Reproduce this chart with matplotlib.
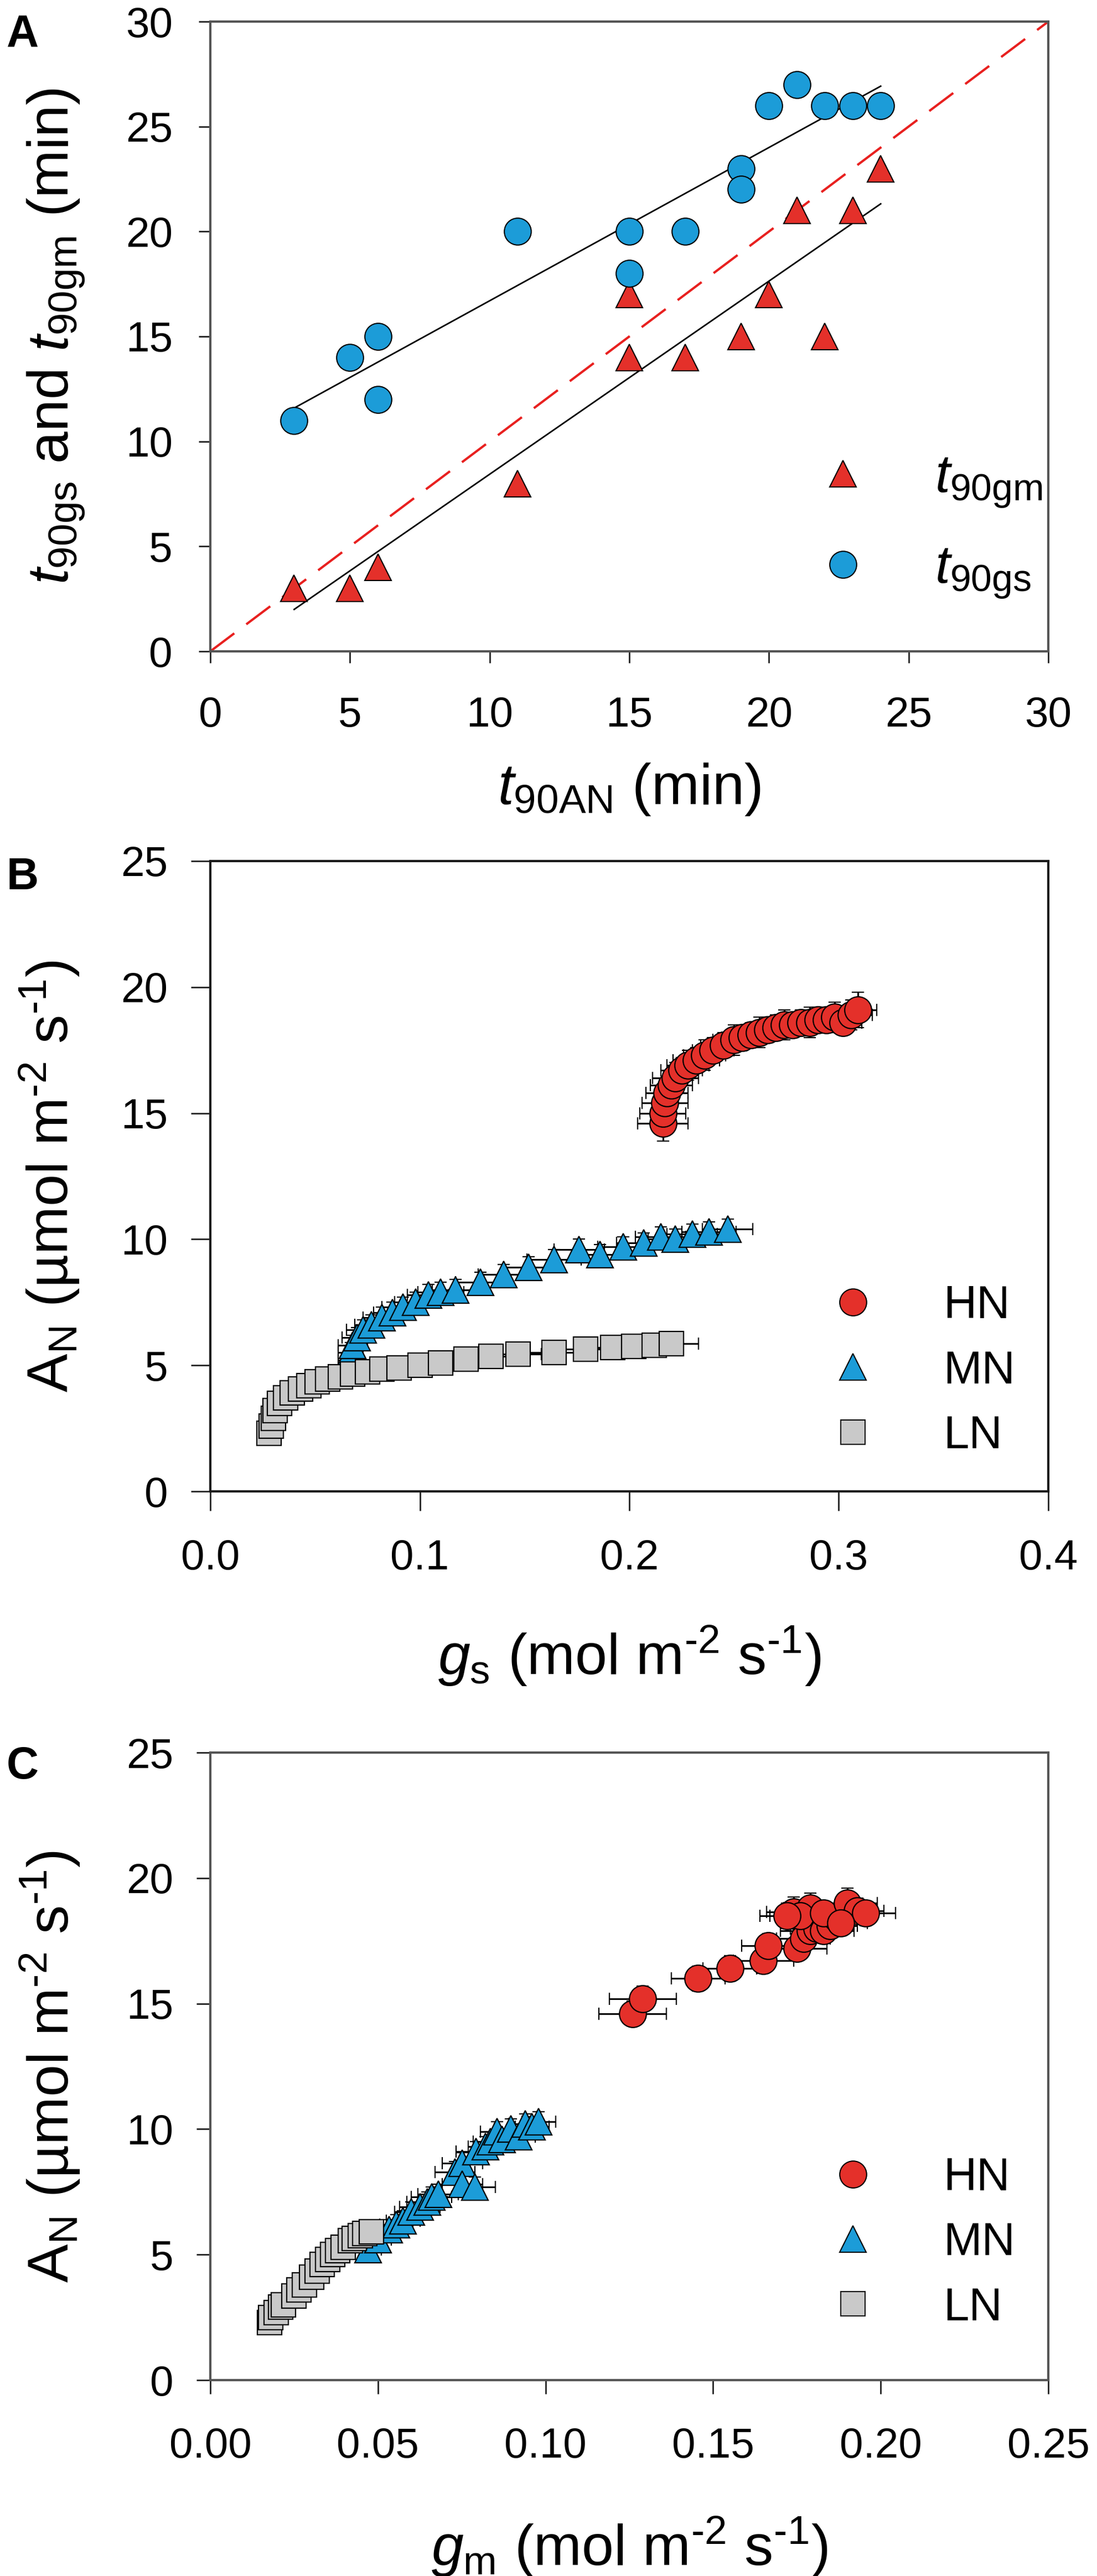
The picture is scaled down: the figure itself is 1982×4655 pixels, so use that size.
import numpy as np
import matplotlib
matplotlib.use("Agg")
import matplotlib.pyplot as plt
from matplotlib.lines import Line2D

plt.rcParams['font.family'] = ['Liberation Sans', 'DejaVu Sans']
plt.rcParams['mathtext.fontset'] = 'custom'
plt.rcParams['mathtext.rm'] = 'Liberation Sans'
plt.rcParams['mathtext.it'] = 'Liberation Sans:italic'
plt.rcParams['mathtext.bf'] = 'Liberation Sans:bold'

RED = '#e4302a'
BLUE = '#1c9cd8'
GREY = '#c9c9c9'

# ---- panel A : t90 of gm and gs against t90 of AN (min)
an_gm = [3, 5, 6, 11, 15, 15, 17, 19, 20, 21, 22, 23, 24]
t90gm = [3, 3, 4, 8, 17, 14, 14, 15, 17, 21, 15, 21, 23]
an_gs = [3, 5, 6, 6, 11, 15, 15, 17, 19, 19, 20, 21, 22, 23, 24]
t90gs = [11, 14, 15, 12, 20, 20, 18, 20, 23, 22, 26, 27, 26, 26, 26]

# ---- panel B : AN vs gs
hn_gs = [0.216, 0.216, 0.217, 0.218, 0.220, 0.222, 0.225, 0.228, 0.232, 0.236,
         0.240, 0.245, 0.250, 0.254, 0.258, 0.262, 0.266, 0.270, 0.274, 0.278,
         0.282, 0.286, 0.290, 0.294, 0.298, 0.302, 0.306, 0.309]
hn_an_b = [14.6, 15.0, 15.4, 15.8, 16.1, 16.4, 16.7, 16.9, 17.1, 17.3,
           17.5, 17.7, 17.9, 18.0, 18.1, 18.2, 18.3, 18.4, 18.5, 18.5,
           18.6, 18.6, 18.7, 18.7, 18.8, 18.6, 18.9, 19.1]
hn_gs_err = [0.012, 0.011, 0.011, 0.010, 0.010, 0.011, 0.010, 0.010, 0.011, 0.010,
             0.010, 0.011, 0.010, 0.010, 0.011, 0.010, 0.010, 0.009, 0.010, 0.010,
             0.009, 0.010, 0.010, 0.009, 0.010, 0.009, 0.010, 0.009]
hn_an_b_err = [0.7, 0.7, 0.6, 0.6, 0.6, 0.6, 0.5, 0.6, 0.5, 0.6,
               0.5, 0.5, 0.6, 0.5, 0.5, 0.6, 0.5, 0.5, 0.6, 0.5,
               0.5, 0.6, 0.5, 0.5, 0.6, 0.5, 0.6, 0.7]

mn_gs = [0.067, 0.067, 0.068, 0.070, 0.073, 0.077, 0.082, 0.087, 0.092, 0.098,
         0.104, 0.110, 0.117, 0.129, 0.140, 0.152, 0.164, 0.176, 0.186, 0.197,
         0.207, 0.215, 0.222, 0.230, 0.238, 0.247]
mn_an_b = [5.2, 5.5, 5.8, 6.1, 6.4, 6.6, 6.9, 7.1, 7.3, 7.5,
           7.8, 7.9, 8.0, 8.3, 8.6, 8.9, 9.2, 9.6, 9.4, 9.7,
           9.85, 10.1, 10.0, 10.2, 10.3, 10.4]
mn_gs_err = [0.006, 0.006, 0.007, 0.007, 0.008, 0.008, 0.009, 0.009, 0.010, 0.010,
             0.010, 0.011, 0.011, 0.012, 0.012, 0.012, 0.013, 0.012, 0.013, 0.012,
             0.013, 0.012, 0.013, 0.012, 0.013, 0.012]
mn_an_b_err = [0.4, 0.4, 0.4, 0.4, 0.4, 0.4, 0.4, 0.4, 0.4, 0.4,
               0.4, 0.4, 0.4, 0.4, 0.4, 0.4, 0.4, 0.4, 0.4, 0.4,
               0.4, 0.4, 0.4, 0.4, 0.4, 0.4]

ln_gs = [0.028, 0.029, 0.030, 0.031, 0.033, 0.036, 0.039, 0.043, 0.047, 0.051,
         0.056, 0.062, 0.068, 0.075, 0.082, 0.090, 0.100, 0.110, 0.122, 0.134,
         0.147, 0.164, 0.179, 0.192, 0.202, 0.212, 0.220]
ln_an_b = [2.3, 2.6, 2.9, 3.2, 3.5, 3.7, 3.9, 4.05, 4.2, 4.35,
           4.45, 4.55, 4.65, 4.75, 4.85, 4.9, 5.0, 5.1, 5.25, 5.35,
           5.45, 5.5, 5.65, 5.7, 5.75, 5.8, 5.85]
ln_gs_err = [0.004, 0.004, 0.004, 0.005, 0.005, 0.005, 0.006, 0.006, 0.006, 0.007,
             0.007, 0.008, 0.008, 0.008, 0.009, 0.009, 0.010, 0.010, 0.011, 0.011,
             0.011, 0.012, 0.012, 0.013, 0.013, 0.013, 0.013]
ln_an_b_err = [0.3, 0.3, 0.3, 0.3, 0.3, 0.3, 0.3, 0.3, 0.3, 0.3,
               0.3, 0.3, 0.3, 0.3, 0.3, 0.3, 0.3, 0.3, 0.3, 0.3,
               0.3, 0.3, 0.3, 0.3, 0.3, 0.3, 0.3]

# ---- panel C : AN vs gm
hn_gm = [0.126, 0.129, 0.1455, 0.155, 0.165, 0.1665, 0.175, 0.177, 0.179, 0.181,
         0.183, 0.185, 0.187, 0.174, 0.179, 0.176, 0.183, 0.190, 0.193, 0.1955,
         0.188, 0.172]
hn_an_c = [14.6, 15.2, 16.0, 16.4, 16.7, 17.3, 17.2, 17.6, 17.9, 18.0,
           17.9, 18.1, 18.4, 18.65, 18.8, 18.5, 18.6, 19.0, 18.7, 18.6,
           18.2, 18.5]
hn_gm_err = [0.010, 0.010, 0.008, 0.008, 0.009, 0.008, 0.009, 0.008, 0.009, 0.008,
             0.009, 0.008, 0.009, 0.008, 0.008, 0.009, 0.008, 0.009, 0.008, 0.009,
             0.008, 0.008]
hn_an_c_err = [0.5, 0.5, 0.5, 0.5, 0.5, 0.5, 0.5, 0.5, 0.5, 0.5,
               0.5, 0.5, 0.5, 0.6, 0.6, 0.5, 0.5, 0.6, 0.5, 0.5,
               0.5, 0.5]

mn_gm = [0.047, 0.050, 0.0533, 0.0555, 0.0575, 0.060, 0.0625, 0.0647, 0.066, 0.068,
         0.073, 0.0752, 0.0752, 0.079, 0.0793, 0.082, 0.0835, 0.0855, 0.087, 0.0897,
         0.092, 0.094, 0.096, 0.098]
mn_an_c = [5.2, 5.6, 6.0, 6.2, 6.35, 6.7, 6.9, 7.1, 7.3, 7.4,
           8.3, 8.65, 7.8, 7.7, 9.1, 9.3, 9.5, 9.9, 9.6, 10.0,
           9.7, 10.2, 10.1, 10.3]
mn_gm_err = [0.004, 0.004, 0.005, 0.005, 0.005, 0.005, 0.006, 0.006, 0.006, 0.006,
             0.006, 0.006, 0.006, 0.006, 0.006, 0.005, 0.005, 0.005, 0.005, 0.005,
             0.005, 0.005, 0.005, 0.005]
mn_an_c_err = [0.4, 0.4, 0.4, 0.4, 0.4, 0.4, 0.4, 0.4, 0.4, 0.4,
               0.4, 0.4, 0.4, 0.4, 0.4, 0.4, 0.4, 0.4, 0.4, 0.4,
               0.4, 0.4, 0.4, 0.4]

ln_gm = [0.0177, 0.018, 0.0197, 0.021, 0.0218, 0.025, 0.0265, 0.028, 0.0302, 0.0318,
         0.0333, 0.035, 0.0365, 0.038, 0.0396, 0.0417, 0.043, 0.0448, 0.046, 0.048]
ln_an_c = [2.3, 2.5, 2.7, 2.9, 3.0, 3.35, 3.6, 3.8, 4.1, 4.35,
           4.6, 4.8, 5.0, 5.15, 5.3, 5.55, 5.65, 5.75, 5.85, 5.9]
ln_gm_err = [0.002, 0.002, 0.002, 0.002, 0.003, 0.003, 0.003, 0.003, 0.003, 0.003,
             0.003, 0.003, 0.003, 0.003, 0.003, 0.003, 0.003, 0.003, 0.003, 0.003]
ln_an_c_err = [0.3, 0.3, 0.3, 0.3, 0.3, 0.3, 0.3, 0.3, 0.3, 0.3,
               0.3, 0.3, 0.3, 0.3, 0.3, 0.3, 0.3, 0.3, 0.3, 0.3]

W, H = 1983, 4655
fig = plt.figure(figsize=(W / 100, H / 100), dpi=100)


def px_axes(left, top, right, bottom):
    return fig.add_axes([left / W, 1 - bottom / H, (right - left) / W, (bottom - top) / H])


def style(ax, ticklen, xpad, ypad, spine_col):
    for s in ['top', 'right', 'left', 'bottom']:
        ax.spines[s].set_linewidth(3)
        ax.spines[s].set_color(spine_col)
    ax.tick_params(direction='out', width=2, length=ticklen, labelsize=55,
                   top=False, right=False, color='#222222')
    ax.tick_params(axis='x', pad=xpad)
    ax.tick_params(axis='y', pad=ypad)


def err_series(ax, x, y, xe, ye, marker, color, ms):
    for i in range(len(x)):
        ax.errorbar(x[i], y[i], xerr=xe[i], yerr=ye[i], fmt=marker, ms=ms,
                    mfc=color, mec='black', mew=1.6, ecolor='black',
                    elinewidth=2.2, capsize=8, capthick=2.2)


LABEL_FS = 75
unit = r' (mol m$^{\text{-2}}$ s$^{\text{-1}}$)'
an_label = r'A$_{\rm N}$ (µmol m$^{\text{-2}}$ s$^{\text{-1}}$)'

# ================= A
axA = px_axes(380, 39, 1894, 1177)
axA.plot([0, 30], [0, 30], color='#e8201f', lw=3, ls=(0, (13, 6.5)), zorder=1)
k, b = np.polyfit(an_gs, t90gs, 1)
xs = np.array([min(an_gs), max(an_gs)])
axA.plot(xs, k * xs + b, color='black', lw=2, zorder=2)
k, b = np.polyfit(an_gm, t90gm, 1)
xs = np.array([min(an_gm), max(an_gm)])
axA.plot(xs, k * xs + b, color='black', lw=2, zorder=2)
axA.plot(an_gm, t90gm, ls='none', marker='^', ms=34, mfc=RED, mec='black', mew=1.5, zorder=3)
axA.plot(an_gs, t90gs, ls='none', marker='o', ms=35, mfc=BLUE, mec='black', mew=1.5, zorder=3)
axA.set_xlim(0, 30)
axA.set_ylim(0, 30)
axA.set_xticks(range(0, 31, 5))
axA.set_yticks(range(0, 31, 5))
style(axA, 15, 43, 34, '#555555')
axA.set_xlabel(r'$t_{\rm 90AN}$ (min)', fontsize=LABEL_FS)
axA.set_ylabel(r'$t_{\rm 90gs}$ and $t_{\rm 90gm}$ (min)', fontsize=LABEL_FS)
axA.xaxis.set_label_coords(0.5, -0.175)
axA.yaxis.set_label_coords(-0.147, 0.5)
hA = [Line2D([], [], ls='none', marker='^', ms=34, mfc=RED, mec='black', mew=1.5),
      Line2D([], [], ls='none', marker='o', ms=35, mfc=BLUE, mec='black', mew=1.5)]
axA.legend(hA, [r'$t_{\rm 90gm}$', r'$t_{\rm 90gs}$'], loc='upper left',
           bbox_to_anchor=(0.723, 0.314), frameon=False, fontsize=70,
           handlelength=1.0, handletextpad=1.2, borderpad=0, borderaxespad=0,
           labelspacing=0.65)

# ================= B
axB = px_axes(380, 1556, 1894, 2695)
err_series(axB, hn_gs, hn_an_b, hn_gs_err, hn_an_b_err, 'o', RED, 35)
err_series(axB, mn_gs, mn_an_b, mn_gs_err, mn_an_b_err, '^', BLUE, 34)
err_series(axB, ln_gs, ln_an_b, ln_gs_err, ln_an_b_err, 's', GREY, 31)
axB.set_xlim(0, 0.4)
axB.set_ylim(0, 25)
axB.set_xticks([0.0, 0.1, 0.2, 0.3, 0.4])
axB.set_xticklabels(['0.0', '0.1', '0.2', '0.3', '0.4'])
axB.set_yticks(range(0, 26, 5))
style(axB, 25, 37, 30, '#1a1a1a')
axB.set_xlabel(r'$g_{\rm s}$' + unit, fontsize=LABEL_FS)
axB.set_ylabel(an_label, fontsize=LABEL_FS)
axB.xaxis.set_label_coords(0.5, -0.21)
axB.yaxis.set_label_coords(-0.154, 0.5)

hBC = [Line2D([], [], ls='none', marker='o', ms=35, mfc=RED, mec='black', mew=1.5),
       Line2D([], [], ls='none', marker='^', ms=34, mfc=BLUE, mec='black', mew=1.5),
       Line2D([], [], ls='none', marker='s', ms=31, mfc=GREY, mec='black', mew=1.5)]
groups = ['HN', 'MN', 'LN']
axB.legend(hBC, groups, loc='upper left', bbox_to_anchor=(0.739, 0.328),
           frameon=False, fontsize=60, handlelength=1.0, handletextpad=1.46,
           borderpad=0, borderaxespad=0, labelspacing=0.47)

# ================= C
axC = px_axes(380, 3167, 1894, 4301)
err_series(axC, hn_gm, hn_an_c, hn_gm_err, hn_an_c_err, 'o', RED, 35)
err_series(axC, mn_gm, mn_an_c, mn_gm_err, mn_an_c_err, '^', BLUE, 34)
err_series(axC, ln_gm, ln_an_c, ln_gm_err, ln_an_c_err, 's', GREY, 31)
axC.set_xlim(0, 0.25)
axC.set_ylim(0, 25)
axC.set_xticks([0.0, 0.05, 0.10, 0.15, 0.20, 0.25])
axC.set_xticklabels(['0.00', '0.05', '0.10', '0.15', '0.20', '0.25'])
axC.set_yticks(range(0, 26, 5))
style(axC, 18, 43, 30, '#555555')
axC.set_xlabel(r'$g_{\rm m}$' + unit, fontsize=LABEL_FS)
axC.set_ylabel(an_label, fontsize=LABEL_FS)
axC.xaxis.set_label_coords(0.5, -0.215)
axC.yaxis.set_label_coords(-0.153, 0.5)
axC.legend(hBC, groups, loc='upper left', bbox_to_anchor=(0.739, 0.356),
           frameon=False, fontsize=60, handlelength=1.0, handletextpad=1.46,
           borderpad=0, borderaxespad=0, labelspacing=0.47)

# panel letters
for letter, top in [('A', 24), ('B', 1548), ('C', 3155)]:
    fig.text(12 / W, 1 - top / H, letter, fontsize=58, fontweight='bold',
             ha='left', va='top')

fig.savefig('out.png', dpi=100, facecolor='white')
